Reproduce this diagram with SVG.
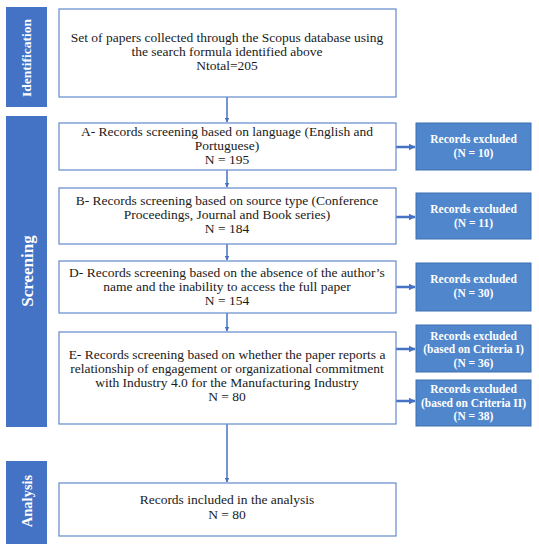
<svg xmlns="http://www.w3.org/2000/svg" width="539" height="550" viewBox="0 0 539 550">
<defs>
<marker id="ah" viewBox="0 0 10 10" refX="9" refY="5" markerWidth="5" markerHeight="5" orient="auto" markerUnits="userSpaceOnUse">
<path d="M0,0 L10,5 L0,10 z" fill="#4472C4"/>
</marker>
<marker id="ahh" viewBox="0 0 10 10" refX="9" refY="5" markerWidth="7" markerHeight="8" orient="auto" markerUnits="userSpaceOnUse">
<path d="M0,0 L10,5 L0,10 z" fill="#4472C4"/>
</marker>
<style>
.box{fill:#ffffff;stroke:#6F93CF;stroke-width:1.3}
.ex{fill:#4F86CC;stroke:#3E6FB0;stroke-width:1}
.bar{fill:#4472C4}
.t{font-family:"Liberation Serif","Times New Roman",serif;font-size:13.5px;fill:#1a1a1a;text-anchor:middle}
.et{font-family:"Liberation Serif","Times New Roman",serif;font-size:11.5px;font-weight:bold;fill:#ffffff;text-anchor:middle}
.bt{font-family:"Liberation Serif","Times New Roman",serif;font-weight:bold;fill:#ffffff;text-anchor:middle}
.c{stroke:#4472C4;stroke-width:1.5;fill:none}
.ch{stroke:#4472C4;stroke-width:2.5;fill:none}
</style>
</defs>
<rect width="539" height="550" fill="#ffffff"/>
<g id="phase-identification">
<rect class="bar" x="6" y="7" width="41" height="100"/>
<text class="bt" font-size="13.5" transform="translate(31,58) rotate(-90)">Identification</text>
</g>
<g id="phase-screening">
<rect class="bar" x="6" y="116" width="41" height="311"/>
<text class="bt" font-size="17" transform="translate(33,271) rotate(-90)">Screening</text>
</g>
<g id="phase-analysis">
<rect class="bar" x="6" y="461" width="41" height="83"/>
<text class="bt" font-size="14.5" transform="translate(32,501) rotate(-90)">Analysis</text>
</g>
<g id="connectors">
<line class="c" x1="227" y1="97" x2="227" y2="122" marker-end="url(#ah)"/>
<line class="c" x1="227" y1="170" x2="227" y2="187" marker-end="url(#ah)"/>
<line class="c" x1="227" y1="244" x2="227" y2="260" marker-end="url(#ah)"/>
<line class="c" x1="227" y1="313" x2="227" y2="331" marker-end="url(#ah)"/>
<line class="c" x1="227" y1="424" x2="227" y2="482" marker-end="url(#ah)"/>
<line class="ch" x1="396" y1="147" x2="415" y2="147" marker-end="url(#ahh)"/>
<line class="ch" x1="396" y1="217" x2="415" y2="217" marker-end="url(#ahh)"/>
<line class="ch" x1="396" y1="287" x2="415" y2="287" marker-end="url(#ahh)"/>
<line class="ch" x1="396" y1="349" x2="415" y2="349" marker-end="url(#ahh)"/>
<line class="ch" x1="396" y1="401" x2="415" y2="401" marker-end="url(#ahh)"/>
</g>
<g id="node-identification">
<rect class="box" x="59" y="9" width="337" height="88"/>
<text class="t" x="227" y="42">Set of papers collected through the Scopus database using</text>
<text class="t" x="227" y="56">the search formula identified above</text>
<text class="t" x="227" y="70">Ntotal=205</text>
</g>
<g id="node-a">
<rect class="box" x="59" y="123" width="337" height="47"/>
<text class="t" x="227" y="136">A- Records screening based on language (English and</text>
<text class="t" x="227" y="150">Portuguese)</text>
<text class="t" x="227" y="164">N = 195</text>
</g>
<g id="node-b">
<rect class="box" x="59" y="188" width="337" height="56"/>
<text class="t" x="227" y="205">B- Records screening based on source type (Conference</text>
<text class="t" x="227" y="219">Proceedings, Journal and Book series)</text>
<text class="t" x="227" y="233">N = 184</text>
</g>
<g id="node-d">
<rect class="box" x="59" y="261" width="337" height="52"/>
<text class="t" x="227" y="277">D- Records screening based on the absence of the author’s</text>
<text class="t" x="227" y="291">name and the inability to access the full paper</text>
<text class="t" x="227" y="305">N = 154</text>
</g>
<g id="node-e">
<rect class="box" x="59" y="332" width="337" height="92"/>
<text class="t" x="227" y="359">E- Records screening based on whether the paper reports a</text>
<text class="t" x="227" y="373">relationship of engagement or organizational commitment</text>
<text class="t" x="227" y="387">with Industry 4.0 for the Manufacturing Industry</text>
<text class="t" x="227" y="401">N = 80</text>
</g>
<g id="node-analysis">
<rect class="box" x="59" y="483" width="337" height="53"/>
<text class="t" x="227" y="504">Records included in the analysis</text>
<text class="t" x="227" y="519">N = 80</text>
</g>
<g id="excl-a">
<rect class="ex" x="416" y="123" width="115" height="47"/>
<text class="et" x="473.5" y="143">Records excluded</text>
<text class="et" x="473.5" y="157">(N = 10)</text>
</g>
<g id="excl-b">
<rect class="ex" x="416" y="193" width="115" height="46"/>
<text class="et" x="473.5" y="213">Records excluded</text>
<text class="et" x="473.5" y="227">(N = 11)</text>
</g>
<g id="excl-d">
<rect class="ex" x="416" y="263" width="115" height="48"/>
<text class="et" x="473.5" y="283">Records excluded</text>
<text class="et" x="473.5" y="297">(N = 30)</text>
</g>
<g id="excl-e1">
<rect class="ex" x="416" y="325" width="115" height="47"/>
<text class="et" x="473.5" y="340">Records excluded</text>
<text class="et" x="473.5" y="353">(based on Criteria I)</text>
<text class="et" x="473.5" y="367">(N = 36)</text>
</g>
<g id="excl-e2">
<rect class="ex" x="416" y="380" width="115" height="46"/>
<text class="et" x="473.5" y="393">Records excluded</text>
<text class="et" x="473.5" y="407">(based on Criteria II)</text>
<text class="et" x="473.5" y="420">(N = 38)</text>
</g>
</svg>
